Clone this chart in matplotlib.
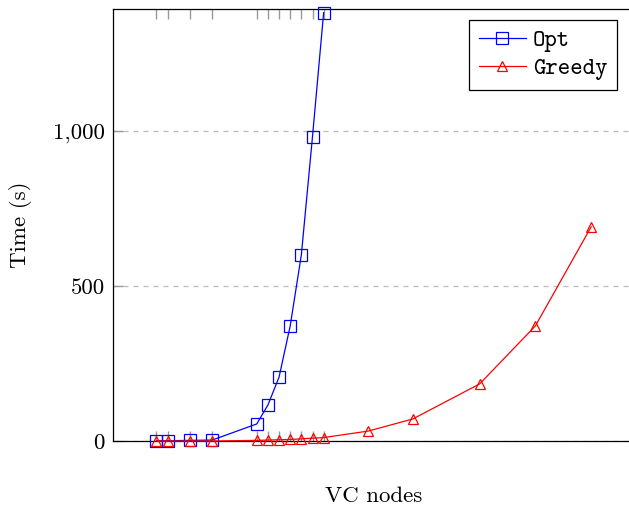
import matplotlib.pyplot as plt
from matplotlib.ticker import FuncFormatter

# data
x_opt = [1, 2, 4, 6, 10, 11, 12, 13, 14, 15, 16]
t_opt = [0.5, 1, 2, 3, 55, 116, 206, 371, 600, 981, 1380]

x_greedy = [1, 2, 4, 6, 10, 11, 12, 13, 14, 15, 16, 20, 24, 30, 35, 40]
t_greedy = [0, 0, 0, 0, 2, 3, 4, 5, 7, 9, 11, 32, 71, 184, 371, 690]

y_ticks = [0, 500, 1000]

FS = 16.5

def main():
    plt.rcParams["font.family"] = ["cmr10", "DejaVu Serif"]
    plt.rcParams["axes.formatter.use_mathtext"] = True

    fig = plt.figure(figsize=(6.29, 5.11), dpi=100)
    ax = fig.add_axes([113 / 629, 1 - 441 / 511, 521.6 / 629, 432 / 511])

    ax.plot(x_opt, t_opt, color="blue", lw=0.9, marker="s", ms=8,
            mfc="none", mec="blue", mew=0.9, label="Opt", clip_on=False, zorder=3)
    ax.plot(x_greedy, t_greedy, color="red", lw=0.9, marker="^", ms=7.5,
            mfc="none", mec="red", mew=0.9, label="Greedy", clip_on=False, zorder=3)

    ax.set_xlim(-2.9, 43.9)
    ax.set_ylim(0, 1392)

    ax.set_xticks(x_opt)
    ax.set_xticklabels([])
    ax.set_yticks(y_ticks)
    ax.yaxis.set_major_formatter(FuncFormatter(lambda v, p: f"{v:,.0f}"))
    ax.tick_params(axis="x", direction="in", length=7, width=1, color="#999999",
                   top=True, bottom=True)
    ax.tick_params(axis="y", direction="in", length=7, width=1, color="#999999",
                   labelsize=FS, pad=6)

    ax.yaxis.grid(True, linestyle=(0, (4, 4)), color="#bbbbbb", lw=0.9)
    ax.set_axisbelow(True)

    for s in ax.spines.values():
        s.set_color("black")
        s.set_linewidth(0.9)

    ax.set_ylabel("Time (s)", fontsize=FS)
    ax.set_xlabel("VC nodes", fontsize=FS)
    ax.yaxis.set_label_coords(-0.155, 0.5)
    ax.xaxis.set_label_coords(0.5, -0.105)

    leg = ax.legend(loc="upper right", bbox_to_anchor=(0.966, 0.975),
                    borderaxespad=0, fancybox=False, edgecolor="black",
                    framealpha=1, handlelength=2.0, handletextpad=0.3,
                    borderpad=0.4, labelspacing=0.25,
                    prop={"family": "cmtt10", "size": 17})
    leg.get_frame().set_linewidth(0.9)

    fig.savefig("out.png", dpi=100)

if __name__ == "__main__":
    main()
